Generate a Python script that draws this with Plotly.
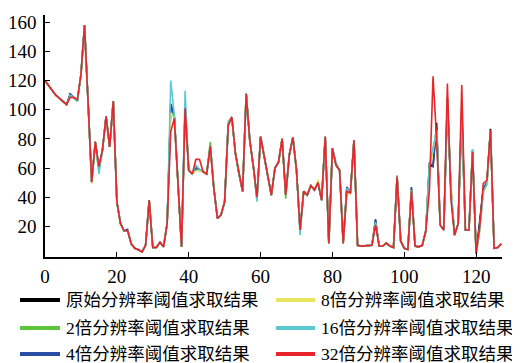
import plotly.graph_objects as go

x_idx = list(range(128))

orig = [
120, 116.6, 112.7, 110, 108, 106, 103.5, 110.5, 108.5, 106, 124, 158, 105, 50, 78, 60,
72.5, 95.5, 74.5, 106, 37, 22, 17, 17, 8, 5, 4, 2.5, 7, 38, 5.5, 5.5,
9, 6, 22, 104, 95, 52, 6, 101, 58.5, 56, 60, 59, 57.5, 56, 75, 46,
25.5, 28, 37, 90, 95, 70, 56, 44, 111, 79, 61, 39, 81.5, 68, 53, 41.5,
60, 64, 80, 41.5, 69, 81, 58.5, 17.5, 44, 41.5, 48, 45, 50, 38, 81.5, 8.5,
73.5, 62, 58.5, 8.5, 46, 43, 79, 7, 6.5, 6.5, 6.5, 7, 24, 6.5, 6.5, 8.5,
6.5, 5.5, 54, 10, 5, 4.2, 46, 6.5, 6, 7, 17, 62, 61, 91, 21, 17.5,
108, 44, 14, 22, 100, 17.5, 17.5, 72, 1.5, 22, 46, 50, 87, 5, 5.5, 8]

x2 = [
120, 116.6, 112.7, 110, 108, 106, 103.5, 109.5, 108.5, 106, 124, 158, 105, 50.5, 78, 58,
72.5, 95.5, 74.5, 106, 37, 22, 17, 17, 8, 5, 4, 2.5, 7, 38, 5.5, 5.5,
9, 6, 22, 100, 95, 52, 6, 101, 58.5, 56, 59, 59, 57.5, 56, 78, 46,
25.5, 28, 37, 89.5, 95, 70, 56, 44, 111, 79, 61, 39, 81.5, 68, 53, 41.5,
60, 64, 80, 39, 69, 81, 58.5, 17.5, 44, 41.5, 48, 45, 50, 38, 81.5, 8.5,
73.5, 62, 58.5, 8.5, 45, 43, 79, 7, 6.5, 6.5, 6.5, 7, 22, 6.5, 6.5, 8.5,
6.5, 5.5, 55, 10, 5, 4.2, 45, 6.5, 6, 7, 17, 60, 72, 86, 21, 17.5,
105, 46, 14, 22, 98, 17.5, 17.5, 72, 1.5, 18, 44, 49, 86, 5, 5.5, 8]

x4 = [
120, 116.6, 112.7, 110, 108, 106, 103.5, 111, 108.5, 106, 124, 158, 105, 50.5, 78, 60,
72.5, 95.5, 74.5, 106, 37, 22, 17, 18, 8, 5, 4, 2.5, 7, 38, 5.5, 5.5,
9, 6, 22, 104, 95, 52, 6, 101, 58.5, 56, 60, 59, 57.5, 56, 75, 46,
25.5, 28, 37, 89.5, 95, 70, 56, 44, 111, 79, 61, 39, 81.5, 68, 53, 41.5,
60, 64, 80, 41.5, 69, 81, 58.5, 17.5, 44, 41.5, 48, 45, 50, 38, 81.5, 8.5,
73.5, 62, 58.5, 8.5, 47, 43, 79, 7, 6.5, 6.5, 6.5, 7, 25, 6.5, 6.5, 8.5,
6.5, 5.5, 54, 10, 5, 4.2, 47, 6.5, 6, 7, 17, 64, 61, 88, 21, 17.5,
103, 44, 14, 22, 95, 17.5, 17.5, 72, 1.5, 21, 46, 50, 86, 5, 5.5, 8]

x8 = [
120, 116.6, 112.7, 110, 108, 106, 103.5, 109, 108.5, 106, 124, 158, 105, 49, 78, 59,
72.5, 95.5, 74.5, 106, 37, 22, 17, 17, 8, 5, 4, 2.5, 7, 38, 5.5, 5.5,
9, 6, 22, 98, 94, 52, 6, 101, 58.5, 56, 58, 58, 57.5, 56, 75, 46,
25.5, 28, 37, 89.5, 95, 70, 56, 44, 111, 79, 61, 38, 81.5, 68, 53, 41.5,
60, 64, 80, 41.5, 69, 81, 58.5, 17.5, 44, 41.5, 48, 45, 52, 38, 81.5, 8.5,
73.5, 62, 58.5, 8.5, 43, 42, 79, 7, 6.5, 6.5, 6.5, 7, 22, 6.5, 6.5, 8.5,
6.5, 5.5, 54, 10, 5, 4.2, 45, 6.5, 6, 7, 17, 60, 72, 86, 21, 17.5,
106, 48, 14, 22, 100, 17.5, 17.5, 72, 1.5, 17, 43, 48, 86, 5, 5.5, 8]

x16 = [
120, 116.6, 112.7, 110, 108, 106, 103.5, 110, 108.5, 106, 124, 158, 105, 50.5, 78, 56,
72.5, 95.5, 74.5, 106, 37, 22, 17, 17, 8, 5, 4, 2.5, 7, 38, 5.5, 5.5,
9, 6, 22, 120, 96, 52, 6, 113, 58.5, 56, 62, 59, 57.5, 56, 75, 46,
25.5, 28, 37, 92, 95, 70, 56, 44, 111, 79, 61, 37, 81.5, 68, 53, 41.5,
60, 64, 80, 41.5, 69, 81, 58.5, 14, 44, 41.5, 48, 45, 50, 38, 81.5, 8.5,
73.5, 64, 58.5, 8.5, 46, 43, 79, 7, 6.5, 6.5, 6.5, 7, 23, 6.5, 6.5, 8.5,
6.5, 5.5, 54, 10, 5, 4.2, 45, 6.5, 6, 7, 17, 62, 74, 85, 21, 17.5,
106, 46, 14, 22, 102, 17.5, 17.5, 73, 1.5, 18, 44, 49, 86, 5, 5.5, 8]

x32 = [
120, 116.6, 112.7, 110, 108, 106, 103.5, 108.5, 108.5, 107, 124, 158, 105, 50.5, 78, 61,
72.5, 95.5, 74.5, 106, 37, 22, 17, 17, 8, 5, 4, 2.5, 7, 38, 5.5, 5.5,
9, 6, 22, 85, 94, 50, 6, 101, 58.5, 56, 66, 66, 57.5, 56, 75, 46,
25.5, 28, 37, 89.5, 95, 70, 56, 44, 111, 79, 61, 40, 81.5, 68, 53, 41.5,
60, 64, 80, 41.5, 69, 81, 58.5, 17.5, 44, 41.5, 48, 45, 50, 38, 81.5, 8.5,
73.5, 62, 58.5, 8.5, 44, 43, 79, 7, 6.5, 6.5, 6.5, 7, 21, 6.5, 6.5, 8.5,
6.5, 5.5, 54, 10, 5, 4.2, 44, 6.5, 6, 7, 17, 45, 123, 80, 21, 17.5,
118, 38, 14, 22, 117, 17.5, 17.5, 71, 1.5, 20, 49.5, 51.5, 86, 5, 5.5, 8]

keys = ["orig", "x2", "x4", "x8", "x16", "x32"]
names = {
    "orig": "原始分辨率阈值求取结果",
    "x2": "2倍分辨率阈值求取结果",
    "x4": "4倍分辨率阈值求取结果",
    "x8": "8倍分辨率阈值求取结果",
    "x16": "16倍分辨率阈值求取结果",
    "x32": "32倍分辨率阈值求取结果",
}
series = {"orig": orig, "x2": x2, "x4": x4, "x8": x8, "x16": x16, "x32": x32}
colors = {
    "orig": "#000000",
    "x2": "#5cc43c",
    "x4": "#2a4ea6",
    "x8": "#e6e65c",
    "x16": "#5cc8d2",
    "x32": "#e8252a",
}

# the page body has an 8px default margin; size the figure so it fits the window
OFF = 8
W, H = 520 - OFF, 363 - OFF
ML, MR, MT, MB = 45 - OFF, 18, 15 - OFF, 106
PW, PH = W - ML - MR, H - MT - MB

def px_to_paper(px, py):
    # px, py are window pixel coordinates
    fx, fy = px - OFF, py - OFF
    return (fx - ML) / PW, (H - MB - fy) / PH

fig = go.Figure()

for key in keys:
    fig.add_trace(go.Scatter(
        x=x_idx, y=series[key], mode="lines", name=names[key],
        line=dict(color=colors[key], width=1.6),
        showlegend=False, hoverinfo="skip",
    ))

font_family = "Liberation Serif, Noto Sans CJK SC"

# manual two-column legend (column-wise order)
legend_cols = [["orig", "x2", "x4"], ["x8", "x16", "x32"]]
col_line_x = [(20, 60), (276, 315)]
col_text_x = [65, 320]
row_y = [300, 328, 354]
shapes = []
annotations = []
for c, col in enumerate(legend_cols):
    for r, key in enumerate(col):
        x0, y0 = px_to_paper(col_line_x[c][0], row_y[r])
        x1, _ = px_to_paper(col_line_x[c][1], row_y[r])
        shapes.append(dict(type="line", xref="paper", yref="paper",
                           x0=x0, x1=x1, y0=y0, y1=y0,
                           line=dict(color=colors[key], width=4)))
        tx, ty = px_to_paper(col_text_x[c], row_y[r])
        annotations.append(dict(xref="paper", yref="paper", x=tx, y=ty,
                                xanchor="left", yanchor="middle",
                                text=names[key], showarrow=False, borderpad=0,
                                font=dict(family=font_family, size=17.5, color="black")))

fig.update_layout(
    width=W, height=H,
    margin=dict(l=ML, r=MR, t=MT, b=MB, autoexpand=False),
    paper_bgcolor="white", plot_bgcolor="white",
    font=dict(family=font_family, size=19, color="black"),
    showlegend=False,
    xaxis=dict(
        range=[0, 127.2], tickvals=[0, 20, 40, 60, 80, 100, 120],
        showline=True, linecolor="black", linewidth=1.5,
        ticks="inside", ticklen=5, tickcolor="black",
        showgrid=False, zeroline=False, ticklabelstandoff=1, automargin=False,
        tickfont=dict(family=font_family, size=19, color="black"),
    ),
    yaxis=dict(
        range=[-1, 165], tickvals=[20, 40, 60, 80, 100, 120, 140, 160],
        showline=True, linecolor="black", linewidth=1.5,
        ticks="inside", ticklen=5, tickcolor="black",
        showgrid=False, zeroline=False, ticklabelstandoff=3, automargin=False,
        tickfont=dict(family=font_family, size=19, color="black"),
    ),
    shapes=shapes,
    annotations=annotations,
)

fig.write_html("out.html")
